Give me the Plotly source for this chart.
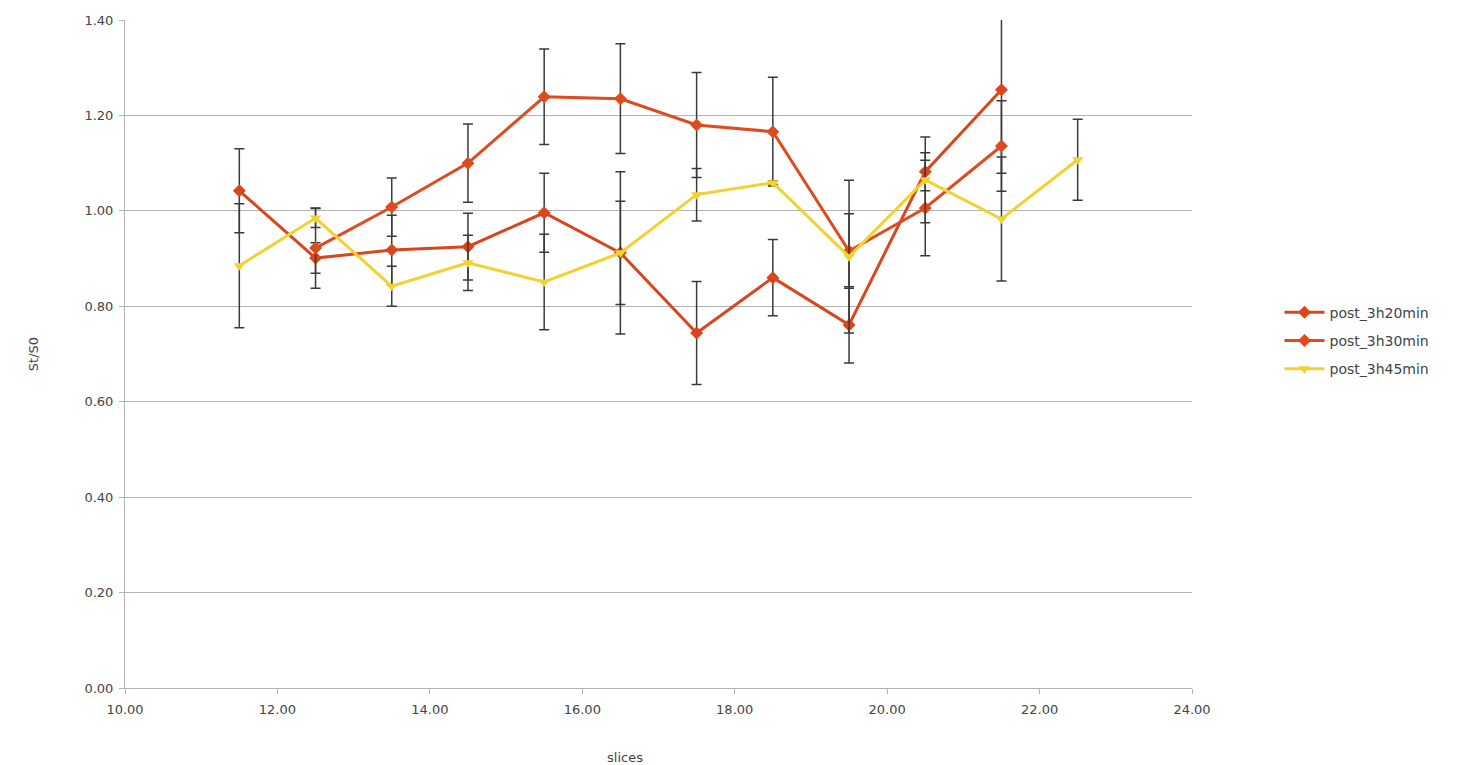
import plotly.graph_objects as go

# Data
x_a = [11.5, 12.5, 13.5, 14.5, 15.5, 16.5, 17.5, 18.5, 19.5, 20.5, 21.5]
y_a = [1.042, 0.901, 0.918, 0.925, 0.996, 0.912, 0.744, 0.860, 0.761, 1.082, 1.254]
e_a = [0.088, 0.032, 0.073, 0.070, 0.083, 0.108, 0.108, 0.080, 0.080, 0.040, 0.175]

x_b = [12.5, 13.5, 14.5, 15.5, 16.5, 17.5, 18.5, 19.5, 20.5, 21.5]
y_b = [0.922, 1.008, 1.100, 1.239, 1.235, 1.180, 1.166, 0.916, 1.006, 1.136]
e_b = [0.084, 0.061, 0.082, 0.100, 0.115, 0.110, 0.114, 0.078, 0.100, 0.095]

x_c = [11.5, 12.5, 13.5, 14.5, 15.5, 16.5, 17.5, 18.5, 19.5, 20.5, 21.5, 22.5]
y_c = [0.885, 0.985, 0.842, 0.891, 0.851, 0.912, 1.034, 1.059, 0.904, 1.065, 0.983, 1.107]
e_c = [0.130, 0.020, 0.042, 0.058, 0.100, 0.170, 0.055, 0.004, 0.160, 0.090, 0.130, 0.085]

names = ["post_3h20min", "post_3h30min", "post_3h45min"]
colors = ["#d8461d", "#dc4c1e", "#f2d130"]
symbols = ["diamond", "diamond", "triangle-down"]

y_ticks = [0.0, 0.2, 0.4, 0.6, 0.8, 1.0, 1.2, 1.4]
x_ticks = [10, 12, 14, 16, 18, 20, 22, 24]

fig = go.Figure()
for xs, ys, es, nm, col, sym in zip([x_a, x_b, x_c], [y_a, y_b, y_c], [e_a, e_b, e_c],
                                     names, colors, symbols):
    fig.add_trace(go.Scatter(
        x=xs, y=ys, name=nm, legendgroup=nm, mode="lines+markers",
        line=dict(color=col, width=3),
        marker=dict(symbol=sym, size=10, color=col),
        error_y=dict(type="data", array=es, visible=True,
                     color="#3a3a3a", thickness=1.5, width=5),
    ))

font_family = "DejaVu Sans, Verdana, sans-serif"
txt = "#444444"
fig.update_layout(
    width=1452, height=757,
    margin=dict(l=117, r=268, t=12, b=77, autoexpand=False),
    paper_bgcolor="white", plot_bgcolor="white",
    font=dict(family=font_family, size=13, color=txt),
    showlegend=True,
    legend=dict(x=1.082, y=0.52, xanchor="left", yanchor="middle",
                font=dict(size=14, color=txt), traceorder="grouped",
                bgcolor="rgba(0,0,0,0)", tracegroupgap=7, itemwidth=40),
    xaxis=dict(range=[10, 24], tickvals=x_ticks, automargin=False,
               ticktext=[f"{v:.2f}" for v in x_ticks],
               showgrid=False, zeroline=False,
               showline=True, linecolor="#b3b3b3", linewidth=1,
               ticks="outside", ticklen=5, tickcolor="#b3b3b3",
               ticklabelstandoff=4,
               tickfont=dict(size=13, color=txt)),
    yaxis=dict(range=[0, 1.4], tickvals=y_ticks, automargin=False,
               ticktext=[f"{v:.2f}" for v in y_ticks],
               showgrid=True, gridcolor="#b3b3b3", gridwidth=1,
               zeroline=False,
               showline=True, linecolor="#b3b3b3", linewidth=1,
               ticks="outside", ticklen=5, tickcolor="#b3b3b3",
               ticklabelstandoff=3,
               tickfont=dict(size=13, color=txt),
               title=dict(text="St/S0", standoff=42,
                          font=dict(size=13, color=txt))),
    annotations=[dict(text="slices", xref="paper", yref="paper",
                      x=0.469, y=0, yshift=-69, showarrow=False,
                      xanchor="center", yanchor="middle",
                      font=dict(size=13, color=txt))],
)

fig.write_html("out.html")
